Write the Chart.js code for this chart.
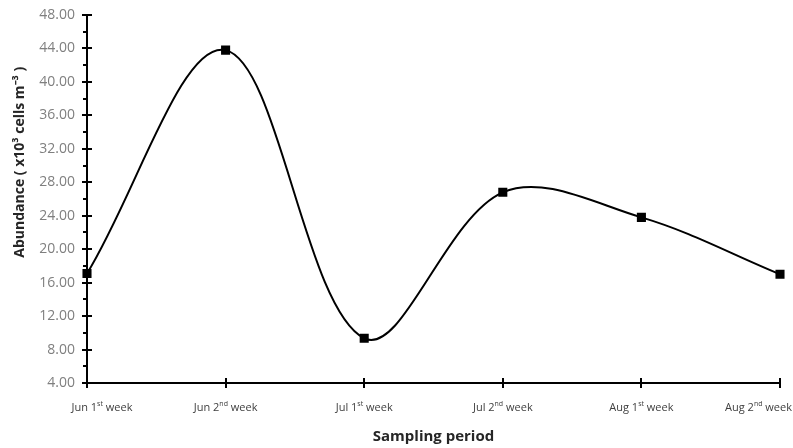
<!DOCTYPE html>
<html>
<head>
<meta charset="utf-8">
<script src="https://cdn.jsdelivr.net/npm/chart.js@4.4.1/dist/chart.umd.min.js"></script>
<style>
  html, body { margin: 0; padding: 0; background: #fff; }
  #wrap { width: 793px; height: 448px; position: relative; }
</style>
</head>
<body>
<div id="wrap"><canvas id="chart"></canvas></div>
<script>
// sampling periods
const periods = ["Jun 1st week", "Jun 2nd week", "Jul 1st week", "Jul 2nd week", "Aug 1st week", "Aug 2nd week"];
// abundance, x10^3 cells m^-3
const abundance = [17.1, 43.8, 9.35, 26.8, 23.8, 17.0];

const yMin = 4;
const yMax = 48;
const yStep = 4;
const yTitle = "Abundance ( x10³ cells m⁻³ )";

// Excel-style cross ticks + minor ticks, x labels with real superscripts, y title
const axisExtras = {
  id: "axisExtras",
  afterDraw(chart) {
    const ctx = chart.ctx;
    const y = chart.scales.y;
    const x = chart.scales.x;
    ctx.save();
    ctx.strokeStyle = "#000";
    ctx.lineWidth = 2;
    ctx.beginPath();
    for (let v = yMin; v <= yMax; v += yStep / 2) {
      const py = Math.round(y.getPixelForValue(v));
      if ((v - yMin) % yStep === 0) {
        ctx.moveTo(x.left - 5, py);
        ctx.lineTo(x.left + 5, py);
      } else {
        ctx.moveTo(x.left - 4, py);
        ctx.lineTo(x.left, py);
      }
    }
    periods.forEach((p, i) => {
      const px = Math.round(x.getPixelForValue(i));
      ctx.moveTo(px, y.bottom - 5);
      ctx.lineTo(px, y.bottom + 5);
    });
    ctx.stroke();

    // category labels
    const baseFont = "11px 'Open Sans'";
    const supFont = "7px 'Open Sans'";
    ctx.fillStyle = "#404040";
    ctx.textBaseline = "middle";
    ctx.textAlign = "left";
    const ly = y.bottom + 25;
    periods.forEach((p, i) => {
      const m = p.match(/^(.*?\d)(st|nd|rd|th)(.*)$/);
      const parts = m ? [m[1], m[2], m[3]] : [p, "", ""];
      ctx.font = baseFont;
      const w0 = ctx.measureText(parts[0]).width;
      const w2 = ctx.measureText(parts[2]).width;
      ctx.font = supFont;
      const w1 = ctx.measureText(parts[1]).width;
      const total = w0 + w1 + w2;
      let sx = x.getPixelForValue(i) - total / 2;
      if (i === 0) sx += 15;
      if (sx + total > chart.width - 1) sx = chart.width - 1 - total;
      ctx.font = baseFont;
      ctx.fillText(parts[0], sx, ly);
      ctx.font = supFont;
      ctx.fillText(parts[1], sx + w0, ly - 4);
      ctx.font = baseFont;
      ctx.fillText(parts[2], sx + w0 + w1, ly);
    });

    // y axis title, sitting a bit above the middle like the original
    ctx.translate(20, y.top + (y.bottom - y.top) * 0.4);
    ctx.rotate(-Math.PI / 2);
    ctx.textAlign = "center";
    ctx.fillStyle = "#262626";
    ctx.font = "bold 14px 'Open Sans'";
    ctx.fillText(yTitle, 0, 0);
    ctx.restore();
  }
};

new Chart(document.getElementById("chart"), {
  type: "line",
  data: {
    labels: periods,
    datasets: [{
      label: "Abundance",
      data: abundance,
      borderColor: "#000",
      borderWidth: 2,
      backgroundColor: "#000",
      pointStyle: "rect",
      pointRadius: 5,
      pointBackgroundColor: "#000",
      tension: 0.35,
      fill: false,
    }],
  },
  options: {
    responsive: true,
    maintainAspectRatio: false,
    animation: false,
    layout: { padding: { top: 15, right: 13, left: 10, bottom: 2 } },
    plugins: {
      legend: { display: false },
      tooltip: { enabled: false },
    },
    scales: {
      x: {
        offset: false,
        grid: { display: false, drawTicks: false },
        border: { display: true, color: "#000", width: 2 },
        ticks: { display: false },
        title: {
          display: true,
          text: "Sampling period",
          color: "#262626",
          font: { family: "Open Sans", size: 15, weight: "bold" },
          padding: { top: 45, bottom: 0 },
        },
      },
      y: {
        min: yMin,
        max: yMax,
        grid: { display: false, drawTicks: false },
        border: { display: true, color: "#000", width: 2 },
        afterFit: (s) => { s.width = 77; s.paddingTop = 0; s.paddingBottom = 0; },
        ticks: {
          stepSize: yStep,
          padding: 12,
          color: "#7f7f7f",
          font: { family: "Open Sans", size: 14 },
          callback: (v) => v.toFixed(2),
        },
        title: { display: false },
      },
    },
  },
  plugins: [axisExtras],
});
</script>
</body>
</html>
